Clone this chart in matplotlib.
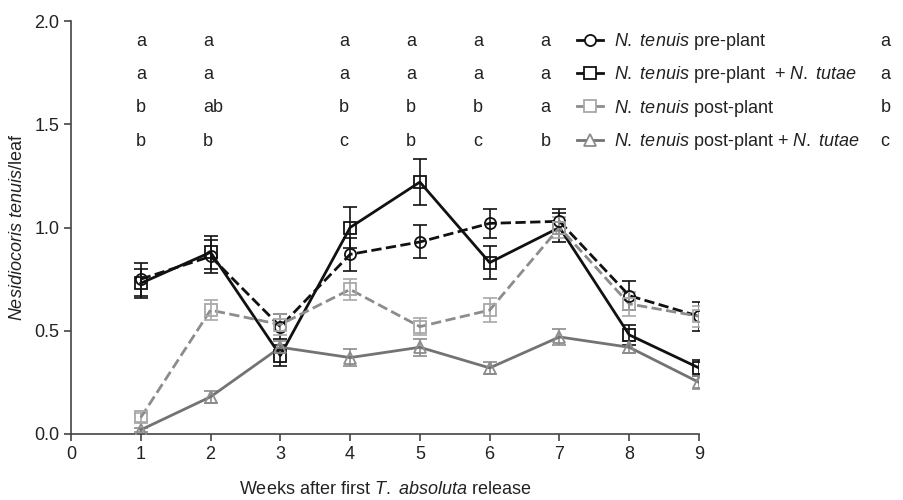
import numpy as np
import matplotlib.pyplot as plt
from matplotlib.lines import Line2D

plt.rcParams['font.family'] = ['Liberation Sans', 'DejaVu Sans']
plt.rcParams['mathtext.fontset'] = 'custom'
plt.rcParams['mathtext.rm'] = 'Liberation Sans'
plt.rcParams['mathtext.it'] = 'Liberation Sans:italic'

weeks = [1, 2, 3, 4, 5, 6, 7, 8, 9]

pre = [0.75, 0.86, 0.52, 0.87, 0.93, 1.02, 1.03, 0.67, 0.57]
pre_err = [0.08, 0.08, 0.06, 0.08, 0.08, 0.07, 0.06, 0.07, 0.07]

pre_tut = [0.73, 0.88, 0.38, 1.00, 1.22, 0.83, 1.00, 0.48, 0.32]
pre_tut_err = [0.07, 0.08, 0.05, 0.10, 0.11, 0.08, 0.07, 0.05, 0.04]

post = [0.08, 0.60, 0.53, 0.70, 0.52, 0.60, 1.00, 0.63, 0.57]
post_err = [0.02, 0.05, 0.05, 0.05, 0.04, 0.06, 0.05, 0.06, 0.05]

post_tut = [0.02, 0.18, 0.42, 0.37, 0.42, 0.32, 0.47, 0.42, 0.25]
post_tut_err = [0.01, 0.03, 0.03, 0.04, 0.04, 0.03, 0.04, 0.03, 0.03]

# significance letters per week (rows = treatments); columns sit slightly
# left of the week ticks in the original figure
letter_x = [0.93, 1.89, 3.84, 4.80, 5.76, 6.73]
letters = [
    ['a', 'a', 'a', 'a', 'a', 'a'],
    ['a', 'a', 'a', 'a', 'a', 'a'],
    ['b', 'ab', 'b', 'b', 'b', 'a'],
    ['b', 'b', 'c', 'b', 'c', 'b'],
]
overall_letters = ['a', 'a', 'b', 'c']
letter_rows = [1.879, 1.719, 1.559, 1.397]

labels = [r'$\it{N.\ tenuis}$ pre-plant',
          r'$\it{N.\ tenuis}$ pre-plant  + $\it{N.\ tutae}$',
          r'$\it{N.\ tenuis}$ post-plant',
          r'$\it{N.\ tenuis}$ post-plant + $\it{N.\ tutae}$']

FS = 13

fig = plt.figure(figsize=(9.04, 5), dpi=100)
ax = fig.add_axes([71/904, 66/500, 628/904, 413/500])

series = [
    (pre, pre_err, 'o', '--', '#111111', '#111111'),
    (pre_tut, pre_tut_err, 's', '-', '#111111', '#111111'),
    (post, post_err, 's', '--', '#8c8c8c', '#a8a8a8'),
    (post_tut, post_tut_err, '^', '-', '#737373', '#8c8c8c'),
]

handles = []
for (vals, err, mk, ls, lc, mc), lab in zip(series, labels):
    ax.errorbar(weeks, vals, yerr=err, fmt='none', ecolor=mc, elinewidth=1.2,
                capsize=5, capthick=1.2, zorder=2)
    ax.plot(weeks, vals, linestyle=ls, color=lc, linewidth=2, zorder=3)
    ax.plot(weeks, vals, linestyle='none', marker=mk, markersize=8,
            markerfacecolor='none', markeredgecolor=mc, markeredgewidth=1.3, zorder=4)
    handles.append(Line2D([], [], linestyle='-', color=lc, linewidth=2, marker=mk,
                          markersize=8, markerfacecolor='white', markeredgecolor=mc,
                          markeredgewidth=1.3))

for r, row in enumerate(letters):
    for x, l in zip(letter_x, row):
        ax.text(x, letter_rows[r], l, ha='left', va='baseline', fontsize=FS,
                color='#222222')
    ax.text(11.6, letter_rows[r], overall_letters[r], ha='left', va='baseline',
            fontsize=FS, color='#222222', clip_on=False)

leg = ax.legend(handles, labels, loc='upper left', bbox_to_anchor=(0.795, 0.993),
                frameon=False, fontsize=FS, handlelength=1.4, handletextpad=0.6,
                labelspacing=0.68, borderaxespad=0.0)
for t in leg.get_texts():
    t.set_color('#222222')

ax.set_xlim(0, 9)
ax.set_ylim(0, 2.0)
ax.set_xticks(range(0, 10))
ax.set_yticks([0.0, 0.5, 1.0, 1.5, 2.0])
ax.set_yticklabels(['0.0', '0.5', '1.0', '1.5', '2.0'])
ax.spines['top'].set_visible(False)
ax.spines['right'].set_visible(False)
for s in ['left', 'bottom']:
    ax.spines[s].set_color('#444444')
    ax.spines[s].set_linewidth(1.2)
ax.tick_params(direction='out', length=5, width=1.2, color='#444444',
               labelsize=FS, labelcolor='#222222')

ax.set_xlabel(r'Weeks after first $\it{T.\ absoluta}$ release', fontsize=FS,
              color='#222222', labelpad=13)
ax.set_ylabel(r'$\it{Nesidiocoris\ tenuis}$/leaf', fontsize=FS, color='#222222',
              labelpad=6)

fig.savefig('out.png', dpi=100, facecolor='white')
